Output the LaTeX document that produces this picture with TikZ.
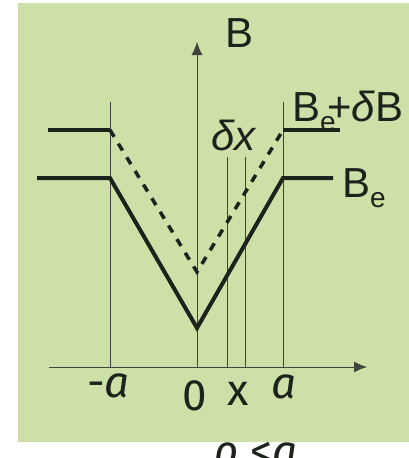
\documentclass[tikz,border=0pt]{standalone}
\usepackage{fontspec}
\setmainfont{Liberation Sans}
\newfontfamily\axisfont{Fira Sans}
\usetikzlibrary{arrows.meta}
\definecolor{paneGreen}{RGB}{205,224,168}
\definecolor{inkDark}{RGB}{30,34,28}

\begin{document}
\begin{tikzpicture}[x=1pt, y=-1pt,
  thinline/.style={line width=0.9pt, inkDark!85},
  axis/.style={thinline, -{Latex[length=13pt, width=11pt]}},
  field/.style={line width=4pt, inkDark},
  shifted/.style={line width=3.5pt, inkDark, dash pattern=on 8pt off 8pt},
  toplabel/.style={font=\fontsize{42}{46}\selectfont, inner sep=0pt, text=inkDark},
  botlabel/.style={font=\axisfont\fontsize{44}{46}\selectfont, inner sep=0pt, text=inkDark}
]
\useasboundingbox (0,0) rectangle (409,458);
\fill[paneGreen] (18,3) rectangle (409,442);

% axes
\coordinate (origin) at (197,367);
\draw[axis] (49,367) -- (367,367);
\draw[axis] (origin) -- (197,42);

% guide lines
\foreach \gx/\gy in {110/102, 283/102, 227/157, 245/157}
  \draw[thinline] (\gx,367) -- (\gx,\gy);

% B_e profile
\draw[field] (37,178) -- (110,178) -- (197,328) -- (283,178) -- (333,178);
% B_e + dB profile
\draw[field, line width=3.5pt] (48,130) -- (110,130);
\draw[shifted] (110,130) -- (197,272) -- (283,130);
\draw[field, line width=3.5pt] (283,130) -- (340,130);

% labels
\node[toplabel, anchor=base] (bLabel) at (240,47) {B};
\node[toplabel, anchor=base west] (bShift) at (292,121)
  {B\raisebox{-0.25em}{\fontsize{28}{29}\selectfont e}\kern-0.2em+\textit{δ}B};
\node[toplabel, anchor=base west] (dxLabel) at (211,150) {\textit{δx}};
\node[toplabel, anchor=base west] (beLabel) at (342,197)
  {B\raisebox{-0.25em}{\fontsize{28}{29}\selectfont e}};

\node[botlabel, anchor=base west] (minusA) at (87,397) {-\textit{a}};
\node[botlabel, anchor=base] (zero) at (195,410) {0};
\node[botlabel, anchor=base] (xLabel) at (238,405) {x};
\node[botlabel, anchor=base] (plusA) at (284,398) {\textit{a}};
\node[botlabel, anchor=base west] (cond) at (213,466) {\textit{ρ} <\textit{a}};
\end{tikzpicture}
\end{document}
